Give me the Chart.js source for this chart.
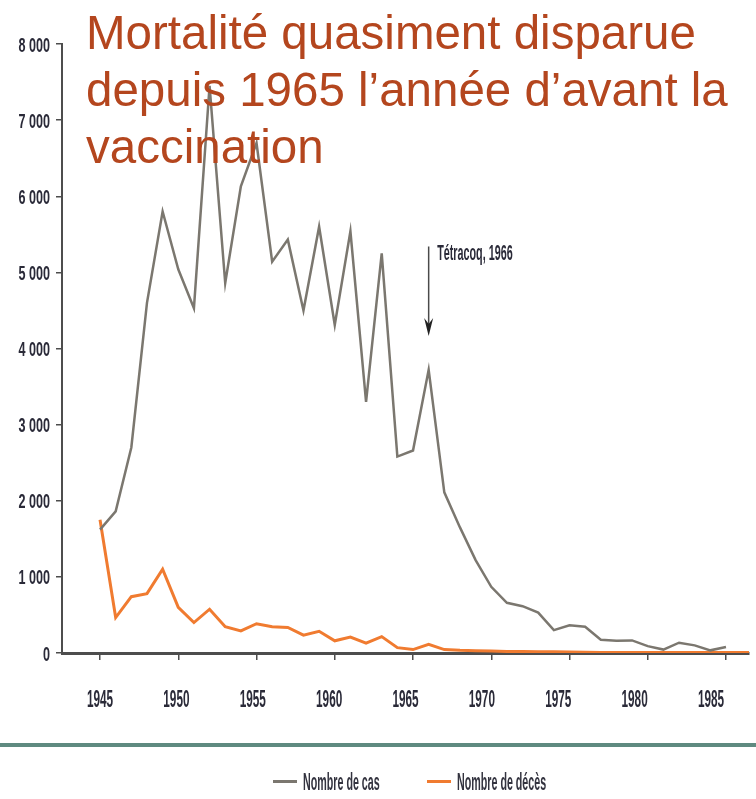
<!DOCTYPE html>
<html lang="fr">
<head>
<meta charset="utf-8">
<title>Coqueluche en France</title>
<script src="https://cdn.jsdelivr.net/npm/chart.js@4.4.1/dist/chart.umd.min.js"></script>
<style>
  html, body { margin: 0; padding: 0; background: #fff; }
  #wrap { position: relative; width: 756px; height: 799px; overflow: hidden; }
  #chart { position: absolute; left: 0; top: 0; }
  #title {
    position: absolute; left: 86px; top: 4px;
    font-family: "Liberation Sans", Arial, sans-serif;
    font-size: 47.5px; line-height: 57px; color: #b4461e;
    white-space: nowrap; pointer-events: none;
  }
  #divider { position: absolute; left: 0; top: 743px; width: 756px; height: 4px; background: #5f8a80; }
  .key { position: absolute; top: 780px; height: 3px; width: 24px; }
  .keyText {
    position: absolute; top: 769px;
    font-family: "Liberation Sans", Arial, sans-serif; font-weight: bold;
    font-size: 23px; line-height: 26px; color: #33333f;
    transform: scaleX(0.465); transform-origin: left center; white-space: nowrap;
  }
</style>
</head>
<body>
<div id="wrap">
  <canvas id="chart" width="756" height="799"></canvas>
  <div id="title">Mortalité quasiment disparue<br>depuis 1965 l’année d’avant la<br>vaccination</div>
  <div id="divider"></div>
  <div id="legend"></div>
</div>
<script>
// années
const years = [1945,1946,1947,1948,1949,1950,1951,1952,1953,1954,
               1955,1956,1957,1958,1959,1960,1961,1962,1963,1964,
               1965,1966,1967,1968,1969,1970,1971,1972,1973,1974,
               1975,1976,1977,1978,1979,1980,1981,1982,1983,1984,
               1985,1986,1987];

// Nombre de cas (1945 -> 1985)
const cases = [1620,1860,2700,4600,5800,5040,4530,7450,4860,6130,
               6700,5140,5430,4500,5600,4310,5540,3300,5250,2580,
               2660,3720,2110,1650,1220,870,660,615,530,300,
               365,345,175,160,165,90,45,135,100,35,
               80];

// Nombre de décès (1945 -> 1987)
const deaths = [1750,465,740,780,1100,600,400,575,345,290,
                385,345,335,235,285,160,210,130,215,70,
                45,115,45,35,30,25,20,20,18,15,
                12,10,8,8,6,6,5,5,5,5,
                5,5,5];

const seriesNames = ["Nombre de cas", "Nombre de décès"];
const seriesColors = ["#7b776f", "#f07b30"];

const xTicks = [1945,1950,1955,1960,1965,1970,1975,1980,1985];
const yTicks = [0,1000,2000,3000,4000,5000,6000,7000,8000];

const vaccineYear = 1966;
const vaccineLabel = "Tétracoq, 1966";

function toPoints(vals){
    return vals.map((v, i) => ({x: years[i], y: v}));
}

function fmt(v){
    return String(v).replace(/\B(?=(\d{3})+(?!\d))/g, " ");
}

// texte étroit (la police d'origine est très condensée)
function narrowText(ctx, text, x, y, size, sx, align){
    ctx.save();
    ctx.translate(x, y);
    ctx.scale(sx, 1);
    ctx.font = "bold " + size + "px 'Liberation Sans', Arial, sans-serif";
    ctx.textAlign = align;
    ctx.textBaseline = "alphabetic";
    ctx.fillText(text, 0, 0);
    ctx.restore();
}

// étiquettes des axes
const labelsPlugin = {
    id: "narrowLabels",
    afterDraw(chart){
        const ctx = chart.ctx;
        const y = chart.scales.y, xl = chart.scales.xLabels;
        ctx.fillStyle = "#2a2a38";
        y.ticks.forEach(t => {
            narrowText(ctx, fmt(t.value), 50, y.getPixelForValue(t.value) + 7.5, 21, 0.6, "right");
        });
        xl.ticks.forEach(t => {
            narrowText(ctx, String(t.value), xl.getPixelForValue(t.value), 706.5, 24, 0.49, "center");
        });
    }
};

// fleche + texte Tétracoq
const arrowPlugin = {
    id: "tetracoq",
    afterDatasetsDraw(chart){
        const ctx = chart.ctx;
        const x = chart.scales.x, y = chart.scales.y;
        const ax = x.getPixelForValue(vaccineYear);
        const top = y.getPixelForValue(5340);
        const tip = y.getPixelForValue(4165);
        ctx.save();
        ctx.strokeStyle = "#4a4a4a";
        ctx.lineWidth = 1.5;
        ctx.beginPath();
        ctx.moveTo(ax, top);
        ctx.lineTo(ax, tip - 10);
        ctx.stroke();
        ctx.fillStyle = "#222";
        ctx.beginPath();
        ctx.moveTo(ax - 4.5, tip - 18);
        ctx.lineTo(ax, tip - 12);
        ctx.lineTo(ax + 4.5, tip - 18);
        ctx.lineTo(ax, tip);
        ctx.closePath();
        ctx.fill();
        ctx.fillStyle = "#2a2a38";
        narrowText(ctx, vaccineLabel, ax + 8.5, y.getPixelForValue(5160), 22, 0.49, "left");
        ctx.restore();
    }
};

const ctx = document.getElementById("chart").getContext("2d");
const myChart = new Chart(ctx, {
    type: "line",
    data: {
        datasets: [{
            label: seriesNames[0],
            data: toPoints(cases),
            borderColor: seriesColors[0],
            backgroundColor: seriesColors[0],
            borderWidth: 2.5,
            pointRadius: 0,
            tension: 0
        }, {
            label: seriesNames[1],
            data: toPoints(deaths),
            borderColor: seriesColors[1],
            backgroundColor: seriesColors[1],
            borderWidth: 3,
            pointRadius: 0,
            tension: 0
        }]
    },
    options: {
        responsive: false,
        animation: false,
        devicePixelRatio: 1,
        layout: { padding: { top: 44, right: 7, left: 0, bottom: 0 } },
        plugins: {
            legend: { display: false },
            tooltip: { enabled: false }
        },
        scales: {
            x: {
                type: "linear",
                position: "bottom",
                min: 1942.57,
                max: 1986.47,
                afterBuildTicks: s => { s.ticks = xTicks.map(v => ({value: v})); },
                afterFit: s => { s.height = 146; },
                border: { display: true, color: "#4d4d4d", width: 3 },
                grid: { drawOnChartArea: false, drawTicks: true, tickLength: 7, color: "#4d4d4d", lineWidth: 1.5 },
                ticks: { display: false }
            },
            // axe des étiquettes (légèrement décalées dans l'original)
            xLabels: {
                type: "linear",
                position: "bottom",
                min: 1942.51,
                max: 1987.49,
                afterBuildTicks: s => { s.ticks = xTicks.map(v => ({value: v})); },
                afterFit: s => { s.height = 0; },
                border: { display: false },
                grid: { display: false },
                ticks: { display: false }
            },
            y: {
                min: 0,
                max: 8000,
                afterBuildTicks: s => { s.ticks = yTicks.map(v => ({value: v})); },
                afterFit: s => { s.width = 62; },
                border: { display: true, color: "#4d4d4d", width: 2 },
                grid: { drawOnChartArea: false, drawTicks: true, tickLength: 6, color: "#4d4d4d", lineWidth: 1.5 },
                ticks: { display: false }
            }
        }
    },
    plugins: [arrowPlugin, labelsPlugin]
});

// légende en bas
const legend = document.getElementById("legend");
const keyPos = [273, 427];
seriesNames.forEach((name, i) => {
    const key = document.createElement("div");
    key.className = "key";
    key.style.left = keyPos[i] + "px";
    key.style.background = seriesColors[i];
    legend.appendChild(key);
    const txt = document.createElement("div");
    txt.className = "keyText";
    txt.style.left = (keyPos[i] + 30) + "px";
    txt.textContent = name;
    legend.appendChild(txt);
});
</script>
</body>
</html>
